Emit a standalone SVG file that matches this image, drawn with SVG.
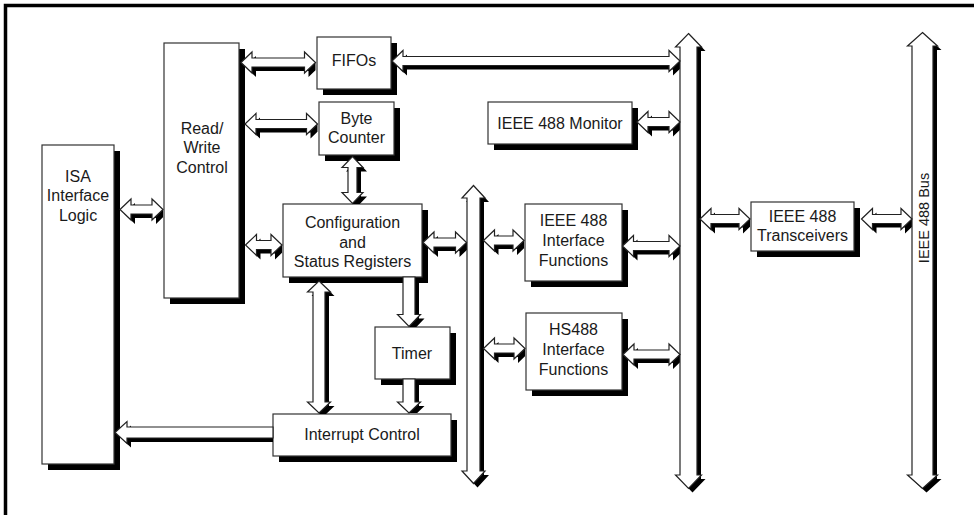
<svg xmlns="http://www.w3.org/2000/svg" width="974" height="515" viewBox="0 0 974 515">
<style>
.bx{fill:#fff;stroke:#333;stroke-width:1.2}
.bs{fill:#000}
.t{font-family:"Liberation Sans",Arial,sans-serif;font-size:16px;fill:#1a1a1a;text-anchor:middle}
.bl{font-family:"Liberation Sans",Arial,sans-serif;font-size:14.5px;fill:#1a1a1a;text-anchor:middle}
.a{fill:#fff;stroke:#222;stroke-width:1.2;stroke-linejoin:miter}
.s{fill:#000}
</style>
<rect width="974" height="515" fill="#fff"/>
<path d="M5.5,515V5.5H974" fill="none" stroke="#000" stroke-width="3.5"/>

<g id="isa">
<rect class="bs" x="48" y="151" width="72" height="319"/>
<rect class="bx" x="42" y="145" width="72" height="319"/>
<text class="t" x="78" y="181.5">ISA</text>
<text class="t" x="78" y="201">Interface</text>
<text class="t" x="78" y="220.5">Logic</text>
</g>
<g id="rw">
<rect class="bs" x="170" y="49" width="75" height="255"/>
<rect class="bx" x="164" y="43" width="75" height="255"/>
<text class="t" x="202" y="133.5">Read/</text>
<text class="t" x="202" y="153">Write</text>
<text class="t" x="202" y="172.5">Control</text>
</g>
<g id="fifos">
<rect class="bs" x="323" y="43" width="74" height="52"/>
<rect class="bx" x="317" y="37" width="74" height="52"/>
<text class="t" x="354" y="66">FIFOs</text>
</g>
<g id="bytecounter">
<rect class="bs" x="325" y="108" width="75" height="53"/>
<rect class="bx" x="319" y="102" width="75" height="53"/>
<text class="t" x="356.5" y="123.5">Byte</text>
<text class="t" x="356.5" y="143">Counter</text>
</g>
<g id="monitor">
<rect class="bs" x="494" y="108" width="144" height="42"/>
<rect class="bx" x="488" y="102" width="144" height="42"/>
<text class="t" x="560" y="129">IEEE 488 Monitor</text>
</g>
<g id="config">
<rect class="bs" x="289" y="210" width="139" height="73"/>
<rect class="bx" x="283" y="204" width="139" height="73"/>
<text class="t" x="352.5" y="228">Configuration</text>
<text class="t" x="352.5" y="247.5">and</text>
<text class="t" x="352.5" y="267">Status Registers</text>
</g>
<g id="ieeeif">
<rect class="bs" x="531" y="210" width="97" height="77"/>
<rect class="bx" x="525" y="204" width="97" height="77"/>
<text class="t" x="573.5" y="226">IEEE 488</text>
<text class="t" x="573.5" y="246">Interface</text>
<text class="t" x="573.5" y="265.5">Functions</text>
</g>
<g id="hs488">
<rect class="bs" x="532" y="319" width="96" height="77"/>
<rect class="bx" x="526" y="313" width="96" height="77"/>
<text class="t" x="573.5" y="335">HS488</text>
<text class="t" x="573.5" y="355">Interface</text>
<text class="t" x="573.5" y="374.5">Functions</text>
</g>
<g id="timer">
<rect class="bs" x="381" y="333" width="75" height="52"/>
<rect class="bx" x="375" y="327" width="75" height="52"/>
<text class="t" x="412" y="359">Timer</text>
</g>
<g id="interrupt">
<rect class="bs" x="279" y="420" width="178" height="42"/>
<rect class="bx" x="273" y="414" width="178" height="42"/>
<text class="t" x="362" y="439.5">Interrupt Control</text>
</g>
<g id="transceivers">
<rect class="bs" x="757" y="208" width="103" height="49"/>
<rect class="bx" x="751" y="202" width="103" height="49"/>
<text class="t" x="802.5" y="221.5">IEEE 488</text>
<text class="t" x="802.5" y="240.5">Transceivers</text>
</g>

<g id="connectors">
<g id="shadows">
<polygon class="s" points="245,66.5 256,56 256,62 308.5,62 308.5,56 315.5,62.7 315.5,70.3 308.5,77 308.5,71 256,71 256,77"/>
<polygon class="s" points="249,128 260,117.5 260,123.5 310.5,123.5 310.5,117.5 317.5,124.2 317.5,131.8 310.5,138.5 310.5,132.5 260,132.5 260,138.5"/>
<polygon class="s" transform="translate(4,4)" points="392,61 403,50.5 403,56.5 669,56.5 669,50.5 680,61 669,71.5 669,65.5 403,65.5 403,71.5"/>
<polygon class="s" transform="translate(4,4)" points="637,122 648,111.5 648,117.5 669,117.5 669,111.5 680,122 669,132.5 669,126.5 648,126.5 648,132.5"/>
<polygon class="s" points="124,213.5 135,203 135,209 156,209 156,203 163,209.7 163,217.3 156,224 156,218 135,218 135,224"/>
<polygon class="s" points="249.5,249 260.5,238.5 260.5,244.5 275,244.5 275,238.5 282,245.2 282,252.8 275,259.5 275,253.5 260.5,253.5 260.5,259.5"/>
<polygon class="s" transform="translate(4,4)" points="423,242.5 434,232 434,238 455.5,238 455.5,232 466.5,242.5 455.5,253 455.5,247 434,247 434,253"/>
<polygon class="s" points="487.5,244.5 498.5,234 498.5,240 517,240 517,234 524,240.7 524,248.3 517,255 517,249 498.5,249 498.5,255"/>
<polygon class="s" transform="translate(4,4)" points="622.5,246 633.5,235.5 633.5,241.5 669,241.5 669,235.5 680,246 669,256.5 669,250.5 633.5,250.5 633.5,256.5"/>
<polygon class="s" points="487.5,352.5 498.5,342 498.5,348 518,348 518,342 525,348.7 525,356.3 518,363 518,357 498.5,357 498.5,363"/>
<polygon class="s" transform="translate(4,4)" points="623,354.5 634,344 634,350 669,350 669,344 680,354.5 669,365 669,359 634,359 634,365"/>
<polygon class="s" points="704,223 715,212.5 715,218.5 743,218.5 743,212.5 750,219.2 750,226.8 743,233.5 743,227.5 715,227.5 715,233.5"/>
<polygon class="s" transform="translate(4,4)" points="861.5,219 872.5,208.5 872.5,214.5 901,214.5 901,208.5 912,219 901,229.5 901,223.5 872.5,223.5 872.5,229.5"/>
<polygon class="s" points="119,436.5 131,425.5 131,431 273,431 273,442 131,442 131,447.5"/>
<polygon class="s" points="356.5,160.5 367,171.5 361,171.5 361,196.5 367,196.5 359.8,204 353.2,204 346,196.5 352,196.5 352,171.5 346,171.5"/>
<polygon class="s" points="323,285 334.5,296 329,296 329,406 334.5,406 326.1,414 319.9,414 311.5,406 317,406 317,296 311.5,296"/>
<polygon class="s" points="407,281 419,281 419,318.5 424.5,318.5 416.4,327 409.6,327 401.5,318.5 407,318.5"/>
<polygon class="s" points="407,383 419,383 419,406 424.5,406 417.2,413 408.8,413 401.5,406 407,406"/>
<polygon class="s" transform="translate(4,4)" points="688.5,33.5 701.5,47 697,47 697,475 701.5,475 688.5,488.5 675.5,475 680,475 680,47 675.5,47"/>
<polygon class="s" transform="translate(4,4)" points="922.5,32.5 937.5,46 933,46 933,475 937.5,475 922.5,488.5 907.5,475 912,475 912,46 907.5,46"/>
<polygon class="s" transform="translate(4,4)" points="473.5,185.5 485,198 480,198 480,471 485,471 473.5,483.5 462,471 467,471 467,198 462,198"/>
</g>
<g id="bodies">
<polygon id="bus1" class="a" points="688.5,33.5 701.5,47 697,47 697,475 701.5,475 688.5,488.5 675.5,475 680,475 680,47 675.5,47"/>
<polygon id="bus2" class="a" points="922.5,32.5 937.5,46 933,46 933,475 937.5,475 922.5,488.5 907.5,475 912,475 912,46 907.5,46"/>
<polygon id="bus3" class="a" points="473.5,185.5 485,198 480,198 480,471 485,471 473.5,483.5 462,471 467,471 467,198 462,198"/>
<polygon class="a" points="241,62.5 252,52 252,58 304.5,58 304.5,52 315.5,62.5 304.5,73 304.5,67 252,67 252,73"/>
<polygon class="a" points="245,124 256,113.5 256,119.5 306.5,119.5 306.5,113.5 317.5,124 306.5,134.5 306.5,128.5 256,128.5 256,134.5"/>
<polygon class="a" points="392,61 403,50.5 403,56.5 669,56.5 669,50.5 680,61 669,71.5 669,65.5 403,65.5 403,71.5"/>
<polygon class="a" points="637,122 648,111.5 648,117.5 669,117.5 669,111.5 680,122 669,132.5 669,126.5 648,126.5 648,132.5"/>
<polygon class="a" points="120,209.5 131,199 131,205 152,205 152,199 163,209.5 152,220 152,214 131,214 131,220"/>
<polygon class="a" points="245.5,245 256.5,234.5 256.5,240.5 271,240.5 271,234.5 282,245 271,255.5 271,249.5 256.5,249.5 256.5,255.5"/>
<polygon class="a" points="423,242.5 434,232 434,238 455.5,238 455.5,232 466.5,242.5 455.5,253 455.5,247 434,247 434,253"/>
<polygon class="a" points="483.5,240.5 494.5,230 494.5,236 513,236 513,230 524,240.5 513,251 513,245 494.5,245 494.5,251"/>
<polygon class="a" points="622.5,246 633.5,235.5 633.5,241.5 669,241.5 669,235.5 680,246 669,256.5 669,250.5 633.5,250.5 633.5,256.5"/>
<polygon class="a" points="483.5,348.5 494.5,338 494.5,344 514,344 514,338 525,348.5 514,359 514,353 494.5,353 494.5,359"/>
<polygon class="a" points="623,354.5 634,344 634,350 669,350 669,344 680,354.5 669,365 669,359 634,359 634,365"/>
<polygon class="a" points="700,219 711,208.5 711,214.5 739,214.5 739,208.5 750,219 739,229.5 739,223.5 711,223.5 711,229.5"/>
<polygon class="a" points="861.5,219 872.5,208.5 872.5,214.5 901,214.5 901,208.5 912,219 901,229.5 901,223.5 872.5,223.5 872.5,229.5"/>
<polygon class="a" points="115,432.5 127,421.5 127,427 273,427 273,438 127,438 127,443.5"/>
<polygon class="a" points="352.5,156.5 363,167.5 357,167.5 357,192.5 363,192.5 352.5,203.5 342,192.5 348,192.5 348,167.5 342,167.5"/>
<polygon class="a" points="319,281 330.5,292 325,292 325,402 330.5,402 319,413 307.5,402 313,402 313,292 307.5,292"/>
<polygon class="a" points="403,277 415,277 415,314.5 420.5,314.5 409,326.5 397.5,314.5 403,314.5"/>
<polygon class="a" points="403,379 415,379 415,402 420.5,402 409,413 397.5,402 403,402"/>
</g>
<text class="bl" transform="translate(928.5,218) rotate(-90)" x="0" y="0">IEEE 488 Bus</text>
</g>
</svg>
